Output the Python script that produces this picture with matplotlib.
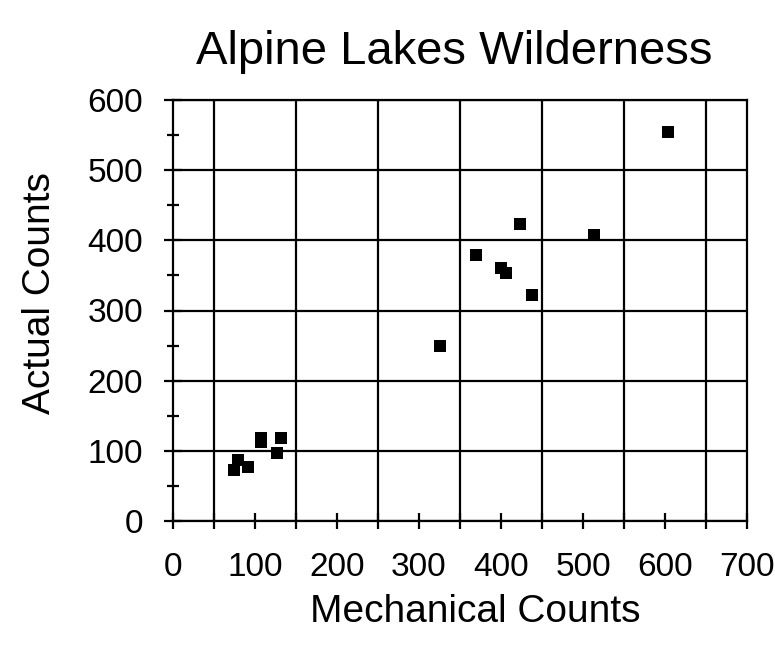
import matplotlib.pyplot as plt
from matplotlib.ticker import MultipleLocator, FixedLocator

plt.rcParams['font.family'] = ['Liberation Sans', 'DejaVu Sans']

# mechanical vs actual counts
mechanical = [604, 423, 514, 370, 400, 406, 438, 326, 107, 107, 132, 127, 79, 92, 74]
actual = [555, 423, 407, 379, 360, 354, 322, 250, 118, 113, 118, 97, 87, 77, 73]

x_ticks = [0, 100, 200, 300, 400, 500, 600, 700]
y_ticks = [0, 100, 200, 300, 400, 500, 600]
x_grid = [50, 150, 250, 350, 450, 550, 650]

W, H = 775, 650
fig = plt.figure(figsize=(W / 100, H / 100), dpi=100)
ax = fig.add_axes([173 / W, 1 - 521 / H, 574 / W, 421 / H])

ax.scatter(mechanical, actual, marker='s', s=85, color='black', zorder=3, linewidths=0)

ax.set_xlim(0, 700)
ax.set_ylim(0, 600)
ax.xaxis.set_major_locator(FixedLocator(x_ticks))
ax.xaxis.set_minor_locator(FixedLocator(x_grid))
ax.yaxis.set_major_locator(FixedLocator(y_ticks))
ax.yaxis.set_minor_locator(MultipleLocator(50))

ax.grid(True, axis='x', which='minor', color='black', linewidth=1.6)
ax.grid(True, axis='y', which='major', color='black', linewidth=1.6)

ax.tick_params(axis='x', which='both', direction='inout', length=11, width=1.6,
               labelsize=24, pad=17)
ax.tick_params(axis='y', which='major', direction='inout', length=13, width=1.6,
               labelsize=24, pad=15)
ax.tick_params(axis='y', which='minor', direction='inout', length=8, width=1.6)

for sp in ax.spines.values():
    sp.set_linewidth(1.6)
    sp.set_color('black')

# titles placed in pixel terms to match the original layout
fig.text(454 / W, 1 - 64 / H, 'Alpine Lakes Wilderness', fontsize=34,
         ha='center', va='baseline')
fig.text(475 / W, 1 - 622 / H, 'Mechanical Counts', fontsize=28,
         ha='center', va='baseline')
fig.text(58 / W, 1 - 293 / H, 'Actual Counts', fontsize=28, rotation=90,
         ha='right', va='center')

fig.savefig('out.png', dpi=100, facecolor='white')
